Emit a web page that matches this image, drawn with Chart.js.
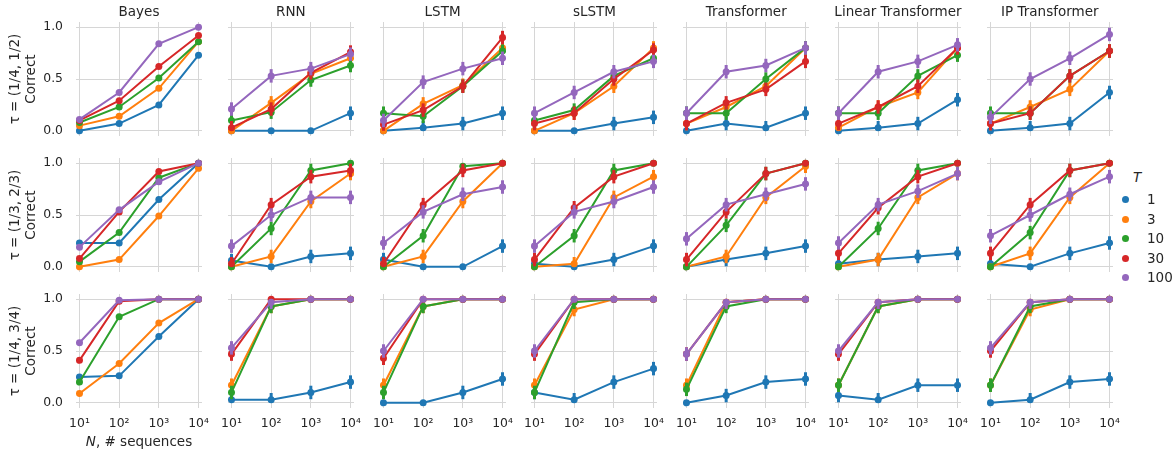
<!DOCTYPE html>
<html>
<head>
<meta charset="utf-8">
<script src="https://cdn.jsdelivr.net/npm/chart.js@4.4.0/dist/chart.umd.min.js"></script>
<style>
  body { margin: 0; width: 1173px; height: 454px; position: relative; overflow: hidden; background: #fff;
         font-family: 'DejaVu Sans', sans-serif; color: #262626; }
  canvas { position: absolute; }
  .col-title { position: absolute; top: 3px; width: 170px; text-align: center; font-size: 13.5px; line-height: 17px; white-space: nowrap; }
  .xlabel { position: absolute; top: 433px; left: 54px; width: 170px; text-align: center; font-size: 13.5px; line-height: 17px; }
  .legend-title { position: absolute; left: 1133px; top: 169px; font-size: 13.5px; font-style: italic; }
  .legend-item { position: absolute; left: 1122px; font-size: 13.5px; line-height: 17px; }
  .legend-item span.dot { position: absolute; left: 0; top: 5px; width: 7px; height: 7px; border-radius: 50%; }
  .legend-item span.lbl { position: absolute; left: 25px; top: 0; }
</style>
</head>
<body>
<script>
const models = ['Bayes', 'RNN', 'LSTM', 'sLSTM', 'Transformer', 'Linear Transformer', 'IP Transformer'];
const taus = ['τ = (1/4, 1/2)', 'τ = (1/3, 2/3)', 'τ = (1/4, 3/4)'];
const nTicks = ['10¹', '10²', '10³', '10⁴'];
const tValues = ['1', '3', '10', '30', '100'];
const tColors = ['#1f77b4', '#ff7f0e', '#2ca02c', '#d62728', '#9467bd'];
const errHalf = 0.065; // approx half-width of the error bars (not shown for Bayes)

// each array: one row per T (1, 3, 10, 30, 100), values at N = 10, 100, 1000, 10000

// --- tau = (1/4, 1/2) ---
const bayes1 = [[0, 0.07, 0.25, 0.73], [0.05, 0.14, 0.41, 0.86], [0.08, 0.23, 0.51, 0.86], [0.10, 0.29, 0.62, 0.92], [0.11, 0.37, 0.84, 1.0]];
const rnn1 = [[0, 0, 0, 0.17], [0, 0.27, 0.55, 0.70], [0.10, 0.18, 0.49, 0.63], [0.03, 0.21, 0.56, 0.76], [0.21, 0.53, 0.60, 0.74]];
const lstm1 = [[0, 0.03, 0.07, 0.17], [0, 0.26, 0.44, 0.80], [0.17, 0.14, 0.43, 0.77], [0.06, 0.20, 0.43, 0.90], [0.10, 0.47, 0.60, 0.70]];
const slstm1 = [[0, 0, 0.07, 0.13], [0, 0.17, 0.43, 0.80], [0.10, 0.20, 0.53, 0.70], [0.07, 0.17, 0.50, 0.78], [0.17, 0.37, 0.57, 0.67]];
const trans1 = [[0, 0.07, 0.03, 0.17], [0.07, 0.23, 0.43, 0.80], [0.17, 0.17, 0.50, 0.80], [0.07, 0.27, 0.40, 0.67], [0.17, 0.57, 0.63, 0.80]];
const linear1 = [[0, 0.03, 0.07, 0.30], [0.03, 0.23, 0.37, 0.80], [0.17, 0.17, 0.53, 0.73], [0.07, 0.23, 0.43, 0.80], [0.17, 0.57, 0.67, 0.83]];
const ip1 = [[0, 0.03, 0.07, 0.37], [0.07, 0.23, 0.40, 0.77], [0.17, 0.17, 0.53, 0.77], [0.07, 0.17, 0.53, 0.77], [0.13, 0.50, 0.70, 0.93]];

// --- tau = (1/3, 2/3) ---
const bayes2 = [[0.23, 0.23, 0.65, 1.0], [0, 0.07, 0.49, 0.95], [0.05, 0.33, 0.86, 1.0], [0.08, 0.53, 0.92, 1.0], [0.19, 0.55, 0.82, 1.0]];
const rnn2 = [[0.06, 0, 0.10, 0.13], [0, 0.10, 0.63, 0.90], [0, 0.37, 0.93, 1.0], [0.03, 0.60, 0.87, 0.93], [0.20, 0.50, 0.67, 0.67]];
const lstm2 = [[0.07, 0, 0, 0.20], [0, 0.10, 0.63, 1.0], [0, 0.30, 0.97, 1.0], [0.03, 0.60, 0.93, 1.0], [0.23, 0.53, 0.70, 0.77]];
const slstm2 = [[0.03, 0, 0.07, 0.20], [0, 0.03, 0.67, 0.87], [0, 0.30, 0.93, 1.0], [0.07, 0.57, 0.87, 1.0], [0.20, 0.53, 0.63, 0.77]];
const trans2 = [[0, 0.07, 0.13, 0.20], [0, 0.10, 0.67, 0.97], [0, 0.40, 0.90, 1.0], [0.07, 0.53, 0.90, 1.0], [0.27, 0.60, 0.70, 0.80]];
const linear2 = [[0.03, 0.07, 0.10, 0.13], [0, 0.07, 0.67, 0.90], [0, 0.37, 0.93, 1.0], [0.13, 0.57, 0.87, 1.0], [0.23, 0.60, 0.73, 0.90]];
const ip2 = [[0.03, 0, 0.13, 0.23], [0, 0.13, 0.67, 1.0], [0, 0.33, 0.93, 1.0], [0.13, 0.60, 0.93, 1.0], [0.30, 0.50, 0.70, 0.87]];

// --- tau = (1/4, 3/4) ---
const bayes3 = [[0.25, 0.26, 0.64, 1.0], [0.09, 0.38, 0.77, 1.0], [0.20, 0.83, 1.0, 1.0], [0.41, 0.98, 1.0, 1.0], [0.58, 0.99, 1.0, 1.0]];
const rnn3 = [[0.03, 0.03, 0.10, 0.20], [0.17, 0.93, 1.0, 1.0], [0.10, 0.93, 1.0, 1.0], [0.47, 1.0, 1.0, 1.0], [0.53, 0.97, 1.0, 1.0]];
const lstm3 = [[0, 0, 0.10, 0.23], [0.17, 0.93, 1.0, 1.0], [0.10, 0.93, 1.0, 1.0], [0.43, 1.0, 1.0, 1.0], [0.50, 1.0, 1.0, 1.0]];
const slstm3 = [[0.10, 0.03, 0.20, 0.33], [0.17, 0.90, 1.0, 1.0], [0.10, 0.97, 1.0, 1.0], [0.47, 1.0, 1.0, 1.0], [0.50, 1.0, 1.0, 1.0]];
const trans3 = [[0, 0.07, 0.20, 0.23], [0.17, 0.97, 1.0, 1.0], [0.13, 0.93, 1.0, 1.0], [0.47, 0.97, 1.0, 1.0], [0.47, 0.97, 1.0, 1.0]];
const linear3 = [[0.07, 0.03, 0.17, 0.17], [0.17, 0.93, 1.0, 1.0], [0.17, 0.93, 1.0, 1.0], [0.47, 0.97, 1.0, 1.0], [0.50, 0.97, 1.0, 1.0]];
const ip3 = [[0, 0.03, 0.20, 0.23], [0.17, 0.90, 1.0, 1.0], [0.17, 0.93, 1.0, 1.0], [0.50, 0.97, 1.0, 1.0], [0.53, 0.97, 1.0, 1.0]];

const panels = [
  [bayes1, rnn1, lstm1, slstm1, trans1, linear1, ip1],
  [bayes2, rnn2, lstm2, slstm2, trans2, linear2, ip2],
  [bayes3, rnn3, lstm3, slstm3, trans3, linear3, ip3]
];

// grid geometry
const plotLeft0 = 76, colStep = 151.8, plotW = 126;
const plotTop0 = 22, rowStep = 136, plotH = 114;
const gridColor = '#d6d6d6';
const tickFont = { family: 'DejaVu Sans', size: 12.4 };
const clear = 'rgba(0,0,0,0)';

// vertical error bars drawn with the dataset they belong to
const errorBars = {
  id: 'errorBars',
  afterDatasetDraw(chart, args) {
    const ds = chart.data.datasets[args.index];
    if (!ds.err) return;
    const { ctx, scales: { x, y } } = chart;
    ctx.save();
    ctx.strokeStyle = ds.borderColor;
    ctx.lineWidth = 3;
    ds.data.forEach(p => {
      if (p.y <= 0 || p.y >= 1) return;
      const lo = Math.max(0, p.y - ds.err), hi = Math.min(1, p.y + ds.err);
      const px = x.getPixelForValue(p.x);
      ctx.beginPath();
      ctx.moveTo(px, y.getPixelForValue(lo));
      ctx.lineTo(px, y.getPixelForValue(hi));
      ctx.stroke();
    });
    ctx.restore();
  }
};

function makePanel(r, c) {
  const yw = c === 0 ? 76 : 0;
  const xh = r === 2 ? 30 : 0;
  const padL = c === 0 ? 0 : 12, padR = 12, padT = 8, padB = 9;
  const plotLeft = plotLeft0 + c * colStep;
  const plotTop = plotTop0 + r * rowStep;

  const canvas = document.createElement('canvas');
  const w = Math.round(padL + yw + plotW + padR), h = padT + plotH + xh + padB;
  canvas.width = w; canvas.height = h;
  canvas.style.width = w + 'px'; canvas.style.height = h + 'px';
  canvas.style.left = Math.round(plotLeft - yw - padL) + 'px';
  canvas.style.top = (plotTop - padT) + 'px';
  document.body.appendChild(canvas);

  const vals = panels[r][c];
  const datasets = vals.map((series, i) => ({
    label: tValues[i],
    data: series.map((v, j) => ({ x: j + 1, y: v })),
    borderColor: tColors[i],
    backgroundColor: tColors[i],
    borderWidth: 2,
    pointRadius: 3.5,
    pointBorderWidth: 0,
    pointHoverRadius: 3.5,
    tension: 0,
    order: vals.length - i,
    err: c === 0 ? 0 : errHalf
  }));

  new Chart(canvas, {
    type: 'line',
    data: { datasets },
    plugins: [errorBars],
    options: {
      responsive: false,
      animation: false,
      events: [],
      layout: { padding: { left: padL, right: padR, top: padT, bottom: padB }, autoPadding: false },
      plugins: { legend: { display: false }, tooltip: { enabled: false } },
      scales: {
        x: {
          type: 'linear',
          min: 0.912,
          max: 4.088,
          afterBuildTicks: s => { s.ticks = [1, 2, 3, 4].map(v => ({ value: v })); },
          afterFit: s => { s.height = xh; },
          grid: { color: gridColor, drawTicks: r === 2, tickLength: 8, tickColor: clear },
          border: { display: false },
          ticks: {
            display: r === 2,
            font: tickFont,
            color: '#262626',
            padding: 0,
            maxRotation: 0,
            callback: v => nTicks[v - 1]
          }
        },
        y: {
          min: -0.05,
          max: 1.05,
          afterBuildTicks: s => { s.ticks = [0, 0.5, 1].map(v => ({ value: v })); },
          afterFit: s => { s.width = yw; },
          grid: { color: gridColor, drawTicks: c === 0, tickLength: 13, tickColor: clear },
          border: { display: false },
          ticks: {
            display: c === 0,
            font: tickFont,
            color: '#262626',
            padding: 0,
            callback: v => v.toFixed(1)
          },
          title: {
            display: c === 0,
            text: [taus[r], 'Correct'],
            font: { family: 'DejaVu Sans', size: 13.5 },
            color: '#262626',
            padding: { top: 7, bottom: 0 }
          }
        }
      }
    }
  });
}

for (let r = 0; r < 3; r++) {
  for (let c = 0; c < models.length; c++) makePanel(r, c);
}

// column titles
models.forEach((m, c) => {
  const d = document.createElement('div');
  d.className = 'col-title';
  d.textContent = m;
  d.style.left = (plotLeft0 + c * colStep + plotW / 2 - 85) + 'px';
  document.body.appendChild(d);
});

// x axis label under the first column
const xl = document.createElement('div');
xl.className = 'xlabel';
xl.innerHTML = '<i>N</i>, # sequences';
document.body.appendChild(xl);

// legend
const lt = document.createElement('div');
lt.className = 'legend-title';
lt.textContent = 'T';
document.body.appendChild(lt);
tValues.forEach((t, i) => {
  const item = document.createElement('div');
  item.className = 'legend-item';
  item.style.top = (191 + i * 19.6) + 'px';
  item.innerHTML = '<span class="dot" style="background:' + tColors[i] + '"></span><span class="lbl">' + t + '</span>';
  document.body.appendChild(item);
});
</script>
</body>
</html>
